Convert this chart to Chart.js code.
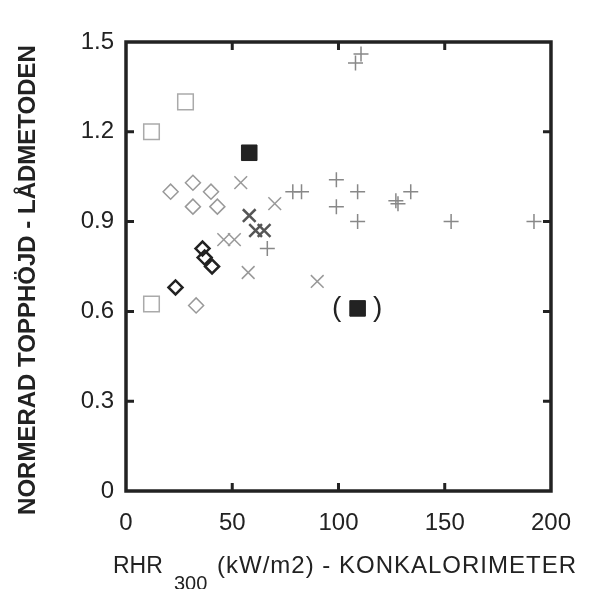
<!DOCTYPE html>
<html>
<head>
<meta charset="utf-8">
<script src="https://cdn.jsdelivr.net/npm/chart.js@4"></script>
<style>
  html, body { margin: 0; padding: 0; background: #fff; }
  #wrap { width: 589px; height: 589px; }
</style>
</head>
<body>
<div id="wrap"><canvas id="chart" width="589" height="589"></canvas></div>
<script>
// values
const xTicks = [0, 50, 100, 150, 200];
const yTicks = [0, 0.3, 0.6, 0.9, 1.2, 1.5];

const squareX = [28, 12, 12];
const squareY = [1.30, 1.20, 0.625];

const filledX = [58, 109];
const filledY = [1.13, 0.61];

const diamondX = [21, 31.5, 40, 43, 31.5, 33];
const diamondY = [1.00, 1.03, 1.00, 0.95, 0.95, 0.62];

const darkDiamondX = [23.3, 36, 37, 40.5];
const darkDiamondY = [0.68, 0.81, 0.78, 0.75];

const crossX = [54, 46, 51, 57.5, 70, 90];
const crossY = [1.03, 0.84, 0.84, 0.73, 0.96, 0.70];

const darkCrossX = [58, 61, 65];
const darkCrossY = [0.92, 0.87, 0.87];

const plusX = [78.5, 82.6, 99, 99, 109, 109, 127, 128, 134, 153, 192, 110.6, 108, 66.5];
const plusY = [1.00, 1.00, 1.04, 0.95, 1.00, 0.90, 0.97, 0.96, 1.00, 0.90, 0.90, 1.46, 1.43, 0.81];

function pts(xs, ys) {
  return xs.map((x, i) => ({ x: x, y: ys[i] }));
}

const FONT = '"Liberation Sans", Arial, sans-serif';
const INK = '#222';

// frame, inward ticks, axis titles, parentheses
const decorPlugin = {
  id: 'decor',
  afterDraw(chart) {
    const ctx = chart.ctx;
    const a = chart.chartArea;
    const xs = chart.scales.x, ys = chart.scales.y;
    ctx.save();
    ctx.strokeStyle = INK;
    ctx.lineWidth = 3.5;
    ctx.strokeRect(a.left, a.top, a.right - a.left, a.bottom - a.top);

    ctx.lineWidth = 3;
    [50, 100, 150].forEach(v => {
      const px = xs.getPixelForValue(v);
      ctx.beginPath();
      ctx.moveTo(px, a.bottom); ctx.lineTo(px, a.bottom - 8);
      ctx.moveTo(px, a.top); ctx.lineTo(px, a.top + 8);
      ctx.stroke();
    });
    [0.3, 0.6, 0.9, 1.2].forEach(v => {
      const py = ys.getPixelForValue(v);
      ctx.beginPath();
      ctx.moveTo(a.left, py); ctx.lineTo(a.left + 8, py);
      ctx.moveTo(a.right, py); ctx.lineTo(a.right - 8, py);
      ctx.stroke();
    });

    // parentheses round the second filled square
    const fx = xs.getPixelForValue(filledX[1]);
    const fy = ys.getPixelForValue(filledY[1]);
    ctx.fillStyle = INK;
    ctx.font = '28px ' + FONT;
    ctx.textAlign = 'center';
    ctx.textBaseline = 'middle';
    ctx.fillText('(', fx - 21, fy);
    ctx.fillText(')', fx + 20, fy);

    // x title with subscript
    ctx.textAlign = 'left';
    ctx.textBaseline = 'alphabetic';
    ctx.font = '23px ' + FONT;
    ctx.fillText('RHR', 113, 573);
    ctx.font = '20px ' + FONT;
    ctx.fillText('300', 174, 590);
    ctx.font = '24px ' + FONT;
    ctx.letterSpacing = '1px';
    ctx.fillText('(kW/m2) - KONKALORIMETER', 217, 573);
    ctx.letterSpacing = '0px';

    // y title
    ctx.translate(35, 280);
    ctx.rotate(-Math.PI / 2);
    ctx.font = 'bold 24px ' + FONT;
    ctx.textAlign = 'center';
    ctx.fillText('NORMERAD TOPPHÖJD - LÅDMETODEN', 0, 0);
    ctx.restore();
  }
};

new Chart(document.getElementById('chart'), {
  type: 'scatter',
  data: {
    datasets: [
      { data: pts(squareX, squareY), pointStyle: 'rect', pointRadius: 11,
        borderColor: '#aaa', backgroundColor: 'rgba(0,0,0,0)', borderWidth: 1.5 },
      { data: pts(filledX, filledY), pointStyle: 'rect', pointRadius: 11,
        borderColor: INK, backgroundColor: INK, borderWidth: 1 },
      { data: pts(diamondX, diamondY), pointStyle: 'rectRot', pointRadius: 7.5,
        borderColor: '#999', backgroundColor: 'rgba(0,0,0,0)', borderWidth: 1.5 },
      { data: pts(darkDiamondX, darkDiamondY), pointStyle: 'rectRot', pointRadius: 7,
        borderColor: INK, backgroundColor: 'rgba(0,0,0,0)', borderWidth: 2.5 },
      { data: pts(crossX, crossY), pointStyle: 'crossRot', pointRadius: 9,
        borderColor: '#999', borderWidth: 1.5 },
      { data: pts(darkCrossX, darkCrossY), pointStyle: 'crossRot', pointRadius: 9,
        borderColor: '#555', borderWidth: 2.5 },
      { data: pts(plusX, plusY), pointStyle: 'cross', pointRadius: 7.5,
        borderColor: '#888', borderWidth: 1.5 }
    ]
  },
  options: {
    responsive: false,
    animation: false,
    layout: { padding: { left: 0, right: 25, top: 42, bottom: 0 } },
    plugins: {
      legend: { display: false },
      tooltip: { enabled: false }
    },
    scales: {
      x: {
        type: 'linear',
        min: 0, max: 200,
        afterBuildTicks: s => { s.ticks = xTicks.map(v => ({ value: v })); },
        afterFit: s => { s.height = 98; },
        grid: { display: false, drawTicks: false },
        border: { display: false },
        ticks: { color: INK, padding: 18, font: { family: FONT, size: 24 } }
      },
      y: {
        type: 'linear',
        min: 0, max: 1.5,
        afterBuildTicks: s => { s.ticks = yTicks.map(v => ({ value: v })); },
        afterFit: s => { s.width = 126; },
        grid: { display: false, drawTicks: false },
        border: { display: false },
        ticks: {
          color: INK, padding: 12, font: { family: FONT, size: 24 },
          callback: v => v === 0 ? '0' : v.toFixed(1)
        }
      }
    }
  },
  plugins: [decorPlugin]
});
</script>
</body>
</html>
